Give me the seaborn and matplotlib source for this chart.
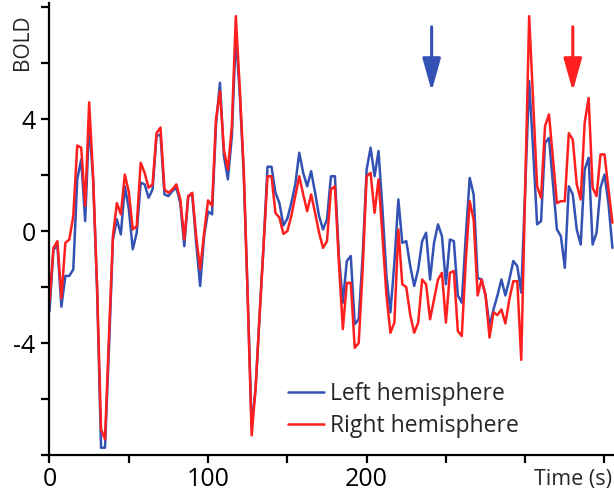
import matplotlib
matplotlib.use("Agg")
import matplotlib.pyplot as plt
import numpy as np
import pandas as pd
import seaborn as sns

# BOLD signal, one sample every 2.5 s
tr = 2.5
left_hemisphere = [
    -2.86, -0.65, -0.54, -2.7, -1.6, -1.6, -1.37, 1.85, 2.56, 0.36,
    3.87, 1.85, -2.08, -7.74, -7.74, -4.2, -0.3, 0.42, -0.12, 1.6,
    0.8, -0.65, -0.06, 1.73, 1.67, 1.19, 1.49, 3.4, 3.45, 1.31,
    1.25, 1.43, 1.55, 1.0, -0.54, 1.25, 1.31, -0.42, -1.96, -0.18,
    0.7, 0.6, 3.8, 5.3, 2.68, 1.85, 3.4, 7.0, 4.9, 2.0,
    -2.3, -7.0, -5.6, -3.0, -0.5, 2.3, 2.3, 1.37, 1.0, 0.2,
    0.45, 1.0, 1.67, 2.8, 2.08, 1.6, 2.14, 1.37, 0.54, 0.06,
    0.42, 1.96, 1.96, -0.89, -2.56, -1.07, -0.89, -3.33, -3.15, -0.89,
    2.2, 2.98, 1.96, 2.86, 0.77, -1.6, -2.9, -1.13, 1.13, -0.42,
    -0.36, -1.25, -1.96, -1.37, -0.36, -0.06, -1.73, -0.42, 0.24, -0.18,
    -1.9, -0.3, -0.36, -2.3, -2.56, -0.2, 1.9, 1.3, -1.67, -1.73,
    -2.3, -3.4, -2.8, -2.3, -1.73, -2.3, -1.73, -1.07, -1.25, -2.2,
    1.5, 5.36, 2.9, 0.24, 0.36, 3.15, 3.33, 1.7, 0.06, -0.18,
    -1.31, 1.6, 1.31, 0.06, -0.48, 2.2, 2.62, -0.48, -0.06, 1.55,
    2.02, 1.0, -0.6,
]
right_hemisphere = [
    -2.5, -0.6, -0.36, -2.4, -0.42, -0.3, 0.54, 3.06, 2.98, 0.9,
    4.6, 1.96, -1.96, -7.08, -7.44, -3.75, -0.18, 1.0, 0.6, 2.02,
    1.4, 0.06, 0.18, 2.44, 2.08, 1.55, 1.67, 3.5, 3.7, 1.49,
    1.37, 1.49, 1.67, 1.13, -0.3, 1.25, 1.37, -0.18, -1.37, -0.06,
    1.1, 0.9, 4.0, 5.0, 2.9, 2.2, 3.75, 7.68, 5.1, 2.2,
    -2.4, -7.3, -5.6, -3.0, -0.5, 1.96, 1.96, 0.65, 0.48, -0.1,
    0.0, 0.54, 1.25, 1.96, 1.31, 0.71, 1.31, 0.65, -0.06, -0.6,
    -0.36, 1.49, 1.6, -1.13, -3.5, -1.85, -1.85, -4.17, -4.0, -1.37,
    1.96, 2.08, 0.65, 1.85, -0.18, -2.3, -3.63, -3.27, 0.06, -1.9,
    -2.0, -3.0, -3.63, -3.27, -1.73, -1.9, -3.15, -2.44, -1.73, -1.49,
    -3.27, -1.49, -1.43, -3.57, -3.75, -1.1, 1.07, 0.4, -2.3, -1.73,
    -2.3, -3.8, -2.9, -3.0, -2.8, -3.3, -2.44, -1.79, -1.79, -4.6,
    1.5, 7.68, 4.6, 1.6, 1.19, 3.75, 4.17, 2.6, 1.0, 1.07,
    1.07, 3.5, 3.27, 1.67, 1.13, 3.87, 4.76, 1.55, 1.25, 2.74,
    2.74, 1.5, 0.3,
]
series_names = ["Left hemisphere", "Right hemisphere"]
series_colors = ["#3352b4", "#ff1f1f"]
arrow_times = [241, 330]

x_ticks = [0, 50, 100, 150, 200, 250, 300, 350]
x_tick_labels = ["0", "", "100", "", "200", "", "", ""]
y_ticks = [-8, -6, -4, -2, 0, 2, 4, 6, 8]
y_tick_labels = ["", "", "-4", "", "0", "", "4", "", ""]

time = np.arange(len(left_hemisphere)) * tr
df = pd.DataFrame({
    "time": np.concatenate([time, time]),
    "bold": left_hemisphere + right_hemisphere,
    "hemisphere": [series_names[0]] * len(time) + [series_names[1]] * len(time),
})

sns.set_style("ticks")
plt.rcParams["font.family"] = ["Open Sans", "DejaVu Sans"]

fig = plt.figure(figsize=(6.14, 4.99), dpi=100)
ax = fig.add_axes([49.5 / 614, 1 - 455 / 499, (614 - 49.5) / 614, 452 / 499])

sns.lineplot(
    data=df, x="time", y="bold", hue="hemisphere",
    hue_order=series_names, palette=dict(zip(series_names, series_colors)),
    linewidth=1.8, ax=ax,
)

ax.set_xlim(0, 356)
ax.set_ylim(-8, 8.15)
ax.set_xticks(x_ticks)
ax.set_xticklabels(x_tick_labels)
ax.set_yticks(y_ticks)
ax.set_yticklabels(y_tick_labels)
ax.tick_params(axis="both", direction="out", length=6, width=1.6,
               labelsize=18, colors="black")
ax.tick_params(axis="x", pad=3)
ax.tick_params(axis="y", pad=4)
ax.set_xlabel("")
ax.set_ylabel("")
for side in ["top", "right"]:
    ax.spines[side].set_visible(False)
for side in ["left", "bottom"]:
    ax.spines[side].set_linewidth(1.6)
    ax.spines[side].set_color("black")

for t, c in zip(arrow_times, series_colors):
    ax.annotate(
        "", xy=(t, 5.0), xytext=(t, 7.3),
        arrowprops=dict(arrowstyle="-|>,head_length=1.0,head_width=0.28",
                        mutation_scale=20, lw=2.2, color=c, shrinkA=0, shrinkB=0),
    )

ax.legend(
    frameon=False, loc="lower left", bbox_to_anchor=(288 / 614, 1 - 438 / 499),
    bbox_transform=fig.transFigure, borderpad=0, borderaxespad=0,
    handlelength=1.55, handletextpad=0.3, labelspacing=0.35, fontsize=16.5,
)

fig.text(612 / 614, 1 - 480 / 499, "Time (s)", ha="right", va="center", fontsize=15.5)
fig.text(22 / 614, 1 - 42 / 499, "BOLD", rotation=90, ha="center", va="center", fontsize=15)

fig.savefig("out.png", dpi=100)
